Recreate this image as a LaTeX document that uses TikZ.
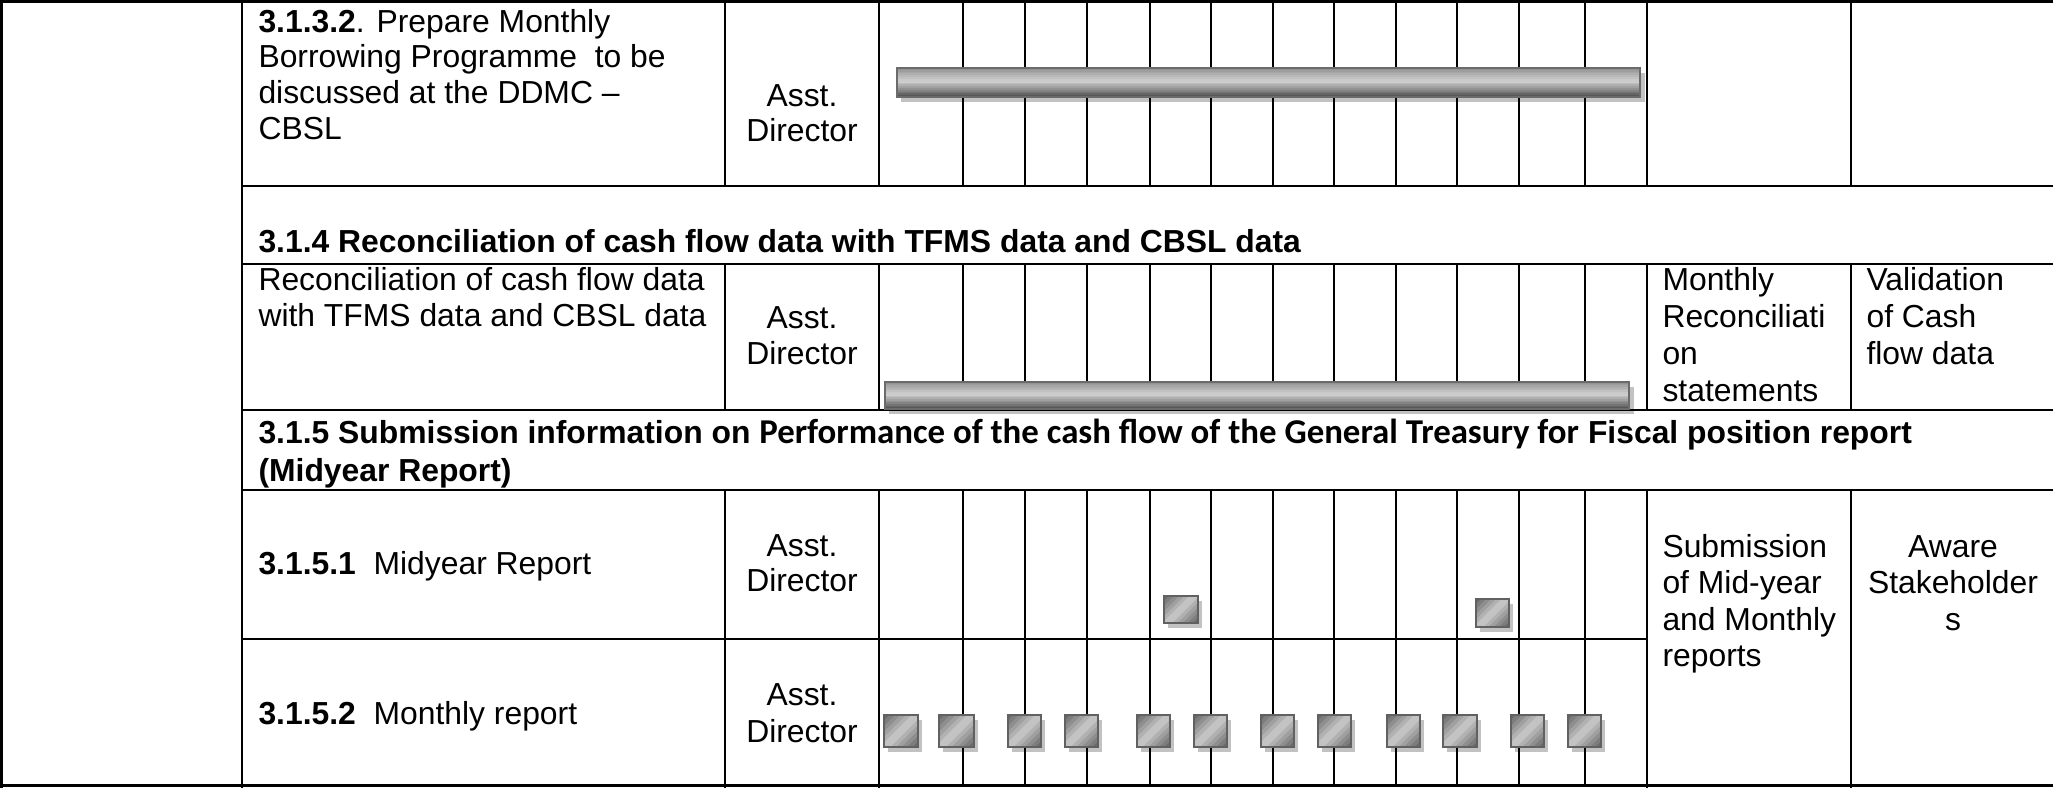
\documentclass[tikz,border=0pt]{standalone}
\usepackage{fontspec}
\setmainfont{Liberation Sans}
\newfontfamily\calfont{Carlito}
% gradient bar: x0 y0 x1 y1
\newcommand\ganttbar[4]{%
  \foreach \i in {0,...,15}{%
    \pgfmathsetmacro\gbT{\i/15}%
    \pgfmathsetmacro\gbP{\gbT<0.45 ? 42-24*\gbT/0.45 : 18+48*(\gbT-0.45)/0.55}%
    \fill[black!\gbP] (#1,{#2+(#4-#2)*\i/16}) rectangle (#3,{#2+(#4-#2)*(\i+1)/16+0.7});
  }%
  \draw[black!58, line width=1pt] (#1,#2) rectangle (#3,#4);
}
% gradient marker: x0 y0 x1 y1
\newcommand\ganttmark[4]{%
  \begin{scope}
  \clip (#1,#2) rectangle (#3,#4);
  \foreach \i in {0,...,11}{%
    \pgfmathsetmacro\gsA{(#3-#1+#4-#2)*\i/12}%
    \pgfmathsetmacro\gsB{(#3-#1+#4-#2)*(\i+1)/12+1}%
    \pgfmathsetmacro\gsT{\i/11}%
    \pgfmathsetmacro\gsP{\gsT<0.5 ? 58-38*\gsT/0.5 : 20+38*(\gsT-0.5)/0.5}%
    \fill[black!\gsP] (#1+\gsA,#2) -- (#1+\gsB,#2) -- (#1+\gsB-90,#2+90) -- (#1+\gsA-90,#2+90) -- cycle;
  }%
  \end{scope}
  \draw[black!62, line width=1pt] (#1,#2) rectangle (#3,#4);
}
\begin{document}
\begin{tikzpicture}[x=0.3846pt, y=-0.3846pt,
  txt/.style={anchor=base west, inner sep=0pt, font=\fontsize{12.25pt}{14pt}\selectfont},
  ctxt/.style={anchor=base, inner sep=0pt, font=\fontsize{12.25pt}{14pt}\selectfont},
  rule/.style={line width=1.05pt, line cap=rect},
  mrule/.style={line width=0.85pt},
  shadowbox/.style={fill=black!24, draw=none}
]
\useasboundingbox (0,0) rectangle (2053,787);

% ---- shadows (below grid) ----
\fill[shadowbox] (901,73) rectangle (1645,102);
\fill[shadowbox] (889,387) rectangle (1634,414);
\fill[shadowbox] (1168,601) rectangle (1202,628);
\fill[shadowbox] (1480,604) rectangle (1513,632);
\foreach \a/\b in {884/918,939/974,1008/1041,1065/1098,1137/1170,1194/1227,1261/1294,1318/1351,1387/1420,1443/1477,1511/1544,1568/1601}{
  \fill[shadowbox] (\a+4,720) rectangle (\b+4,752);
}

% ---- grid ----
\draw[rule] (0,1.5) -- (2053,1.5);
\draw[rule] (242,186) -- (2053,186);
\draw[rule] (242,264) -- (2053,264);
\draw[rule] (242,410) -- (2053,410);
\draw[rule] (242,490) -- (2053,490);
\draw[rule] (242,639) -- (1647,639);
\draw[rule] (0,785.5) -- (2053,785.5);
\draw[rule] (1.5,0) -- (1.5,787);
\draw[rule] (242,0) -- (242,787);
\foreach \x in {725,879,1647,1851}{
  \draw[rule] (\x,0) -- (\x,186);
  \draw[rule] (\x,264) -- (\x,410);
  \draw[rule] (\x,490) -- (\x,787);
}
\foreach \x in {963,1025,1087,1150,1211,1273,1334,1396,1457,1519,1585}{
  \draw[mrule] (\x,0) -- (\x,186);
  \draw[mrule] (\x,264) -- (\x,410);
  \draw[mrule] (\x,490) -- (\x,787);
}

% ---- bars and markers ----
\ganttbar{897}{68}{1640}{97}
\ganttbar{885}{382}{1629}{409}
\ganttmark{1164}{596}{1198}{623}
\ganttmark{1476}{599}{1509}{627}
\ganttmark{884}{715}{918}{747}
\ganttmark{939}{715}{974}{747}
\ganttmark{1008}{715}{1041}{747}
\ganttmark{1065}{715}{1098}{747}
\ganttmark{1137}{715}{1170}{747}
\ganttmark{1194}{715}{1227}{747}
\ganttmark{1261}{715}{1294}{747}
\ganttmark{1318}{715}{1351}{747}
\ganttmark{1387}{715}{1420}{747}
\ganttmark{1443}{715}{1477}{747}
\ganttmark{1511}{715}{1544}{747}
\ganttmark{1568}{715}{1601}{747}

% ---- row 3.1.3.2 ----
\node[txt] (r1a) at (258,32) {\textbf{3.1.3.2}. Prepare Monthly};
\node[txt] (r1b) at (258,67.5) {Borrowing Programme\ \ to be};
\node[txt] (r1c) at (258,103) {discussed at the DDMC –};
\node[txt] (r1d) at (258,139) {CBSL};
\node[ctxt] (r1e) at (802,106) {Asst.};
\node[ctxt] (r1f) at (802,141) {Director};

% ---- header 3.1.4 ----
\node[txt] (h4) at (258,252) {\bfseries 3.1.4 Reconciliation of cash flow data with TFMS data and CBSL data};

% ---- row 3.1.4 ----
\node[txt] (r2a) at (258,290) {Reconciliation of cash flow data};
\node[txt] (r2b) at (258,326) {with TFMS data and CBSL data};
\node[ctxt] (r2c) at (802,328) {Asst.};
\node[ctxt] (r2d) at (802,364) {Director};
\node[txt] (r2e) at (1662,290) {Monthly};
\node[txt] (r2f) at (1662,327) {Reconciliati};
\node[txt] (r2g) at (1662,364) {on};
\node[txt] (r2h) at (1662,401) {statements};
\node[txt] (r2i) at (1866,290) {Validation};
\node[txt] (r2j) at (1866,327) {of Cash};
\node[txt] (r2k) at (1866,364) {flow data};

% ---- header 3.1.5 ----
\node[txt] (h5a) at (258,443) {\bfseries 3.1.5 Submission information on {\calfont\fontsize{13.4pt}{15pt}\selectfont Performance of the cash flow of the General Treasury for} Fiscal position report};
\node[txt] (h5b) at (258,481) {\bfseries (Midyear Report)};

% ---- row 3.1.5.1 ----
\node[txt] (r3a) at (258,574) {\textbf{3.1.5.1}\ \ Midyear Report};
\node[ctxt] (r3b) at (802,556) {Asst.};
\node[ctxt] (r3c) at (802,591) {Director};
\node[txt] (r3d) at (1662,557) {Submission};
\node[txt] (r3e) at (1662,593) {of Mid-year};
\node[txt] (r3f) at (1662,630) {and Monthly};
\node[txt] (r3g) at (1662,666) {reports};
\node[ctxt] (r3h) at (1953,557) {Aware};
\node[ctxt] (r3i) at (1953,593) {Stakeholder};
\node[ctxt] (r3j) at (1953,630) {s};

% ---- row 3.1.5.2 ----
\node[txt] (r4a) at (258,724) {\textbf{3.1.5.2}\ \ Monthly report};
\node[ctxt] (r4b) at (802,705) {Asst.};
\node[ctxt] (r4c) at (802,742) {Director};
\end{tikzpicture}
\end{document}
